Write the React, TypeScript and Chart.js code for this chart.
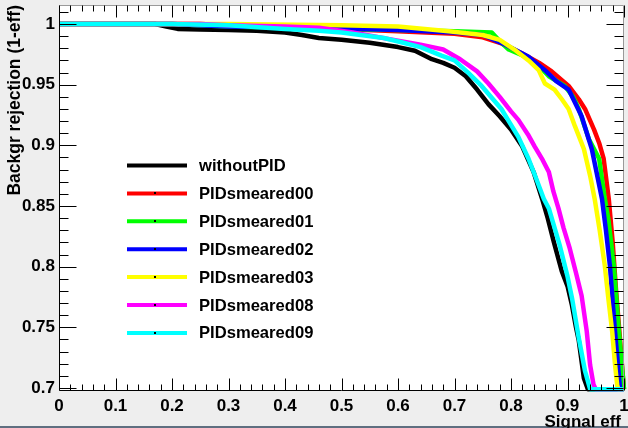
import React, { useEffect, useRef } from "react";
import { Chart, registerables } from "chart.js";

Chart.register(...registerables);

const SERIES_LABELS = ["withoutPID", "PIDsmeared00", "PIDsmeared01", "PIDsmeared02", "PIDsmeared03", "PIDsmeared08", "PIDsmeared09"];
const SERIES_COLORS = ["#000000", "#ff0000", "#00ff00", "#0000ff", "#ffff00", "#ff00ff", "#00ffff"];

const EFF_WITHOUT = [0, 0.17, 0.19, 0.21, 0.25, 0.3, 0.35, 0.4, 0.43, 0.46, 0.5, 0.55, 0.6, 0.63, 0.66, 0.68, 0.7, 0.72, 0.74, 0.76, 0.78, 0.8, 0.82, 0.84, 0.855, 0.865, 0.876, 0.89, 0.9, 0.908, 0.915, 0.92, 0.929, 0.936, 1.0];
const REJ_WITHOUT = [1, 1, 0.998, 0.996, 0.9955, 0.995, 0.9945, 0.993, 0.991, 0.9885, 0.987, 0.9845, 0.981, 0.978, 0.971, 0.968, 0.964, 0.957, 0.946, 0.934, 0.924, 0.913, 0.899, 0.878, 0.856, 0.84, 0.82, 0.796, 0.784, 0.768, 0.75, 0.739, 0.708, 0.699, 0.699];

const EFF_00 = [0, 0.25, 0.35, 0.45, 0.5, 0.6, 0.7, 0.75, 0.783, 0.819, 0.85, 0.872, 0.902, 0.92, 0.931, 0.947, 0.956, 0.964, 0.973, 0.98, 0.986, 0.993, 0.997, 1.0];
const REJ_00 = [1, 1, 0.998, 0.997, 0.996, 0.994, 0.992, 0.989, 0.984, 0.976, 0.968, 0.961, 0.949, 0.938, 0.93, 0.913, 0.902, 0.889, 0.856, 0.82, 0.78, 0.74, 0.715, 0.699];

const EFF_01 = [0, 0.2, 0.3, 0.5, 0.6, 0.7, 0.766, 0.78, 0.796, 0.831, 0.85, 0.867, 0.895, 0.91, 0.92, 0.938, 0.956, 0.966, 0.972, 0.982, 0.991, 0.996, 1.0];
const REJ_01 = [1, 1, 0.998, 0.996, 0.995, 0.994, 0.993, 0.986, 0.979, 0.972, 0.965, 0.957, 0.949, 0.94, 0.93, 0.905, 0.889, 0.856, 0.84, 0.801, 0.747, 0.72, 0.699];

const EFF_02 = [0, 0.2, 0.3, 0.45, 0.6, 0.7, 0.75, 0.79, 0.831, 0.86, 0.88, 0.902, 0.925, 0.943, 0.961, 0.968, 0.975, 0.984, 0.99, 0.993, 1.0];
const REJ_02 = [1, 1, 0.998, 0.997, 0.995, 0.993, 0.991, 0.983, 0.973, 0.962, 0.953, 0.946, 0.924, 0.897, 0.856, 0.83, 0.801, 0.747, 0.715, 0.699, 0.699];

const EFF_03 = [0, 0.3, 0.5, 0.6, 0.69, 0.75, 0.78, 0.806, 0.831, 0.849, 0.86, 0.877, 0.89, 0.902, 0.913, 0.929, 0.94, 0.948, 0.957, 0.966, 0.972, 0.979, 0.984, 0.988, 0.99, 1.0];
const REJ_03 = [1, 1, 0.999, 0.998, 0.994, 0.991, 0.987, 0.979, 0.97, 0.962, 0.951, 0.946, 0.938, 0.93, 0.916, 0.897, 0.875, 0.856, 0.83, 0.801, 0.775, 0.747, 0.72, 0.702, 0.699, 0.699];

const EFF_08 = [0, 0.25, 0.3, 0.4, 0.46, 0.52, 0.58, 0.64, 0.68, 0.71, 0.74, 0.76, 0.78, 0.8, 0.813, 0.83, 0.842, 0.856, 0.867, 0.875, 0.884, 0.893, 0.904, 0.915, 0.925, 0.934, 0.94, 0.946, 0.95, 1.0];
const REJ_08 = [1, 1, 0.999, 0.998, 0.997, 0.993, 0.988, 0.983, 0.979, 0.971, 0.961, 0.951, 0.94, 0.928, 0.921, 0.909, 0.899, 0.888, 0.878, 0.862, 0.848, 0.832, 0.815, 0.795, 0.776, 0.747, 0.719, 0.703, 0.699, 0.699];

const EFF_09 = [0, 0.2, 0.3, 0.4, 0.46, 0.5, 0.575, 0.606, 0.64, 0.677, 0.7, 0.724, 0.748, 0.783, 0.796, 0.813, 0.831, 0.845, 0.858, 0.867, 0.886, 0.9, 0.908, 0.92, 0.931, 0.94, 1.0];
const REJ_09 = [1, 1, 0.999, 0.996, 0.9945, 0.993, 0.9885, 0.985, 0.981, 0.974, 0.97, 0.96, 0.949, 0.93, 0.92, 0.907, 0.889, 0.872, 0.856, 0.848, 0.818, 0.792, 0.774, 0.741, 0.714, 0.699, 0.699];

const SERIES_EFF = [EFF_WITHOUT, EFF_00, EFF_01, EFF_02, EFF_03, EFF_08, EFF_09];
const SERIES_REJ = [REJ_WITHOUT, REJ_00, REJ_01, REJ_02, REJ_03, REJ_08, REJ_09];

const X_TICKS = [0, 0.1, 0.2, 0.3, 0.4, 0.5, 0.6, 0.7, 0.8, 0.9, 1];
const X_TICK_LABELS = ["0", "0.1", "0.2", "0.3", "0.4", "0.5", "0.6", "0.7", "0.8", "0.9", "1"];
const Y_TICKS = [0.7, 0.75, 0.8, 0.85, 0.9, 0.95, 1];
const Y_TICK_LABELS = ["0.7", "0.75", "0.8", "0.85", "0.9", "0.95", "1"];
const X_MIN = 0;
const X_MAX = 1;
const Y_MIN = 0.6975;
const Y_MAX = 1.0157;
const X_MINOR_STEP = 0.02;
const Y_MINOR_STEP = 0.01;
const X_TITLE = "Signal eff";
const Y_TITLE = "Backgr rejection (1-eff)";

const FONT = "'Liberation Sans', Arial, sans-serif";

const rootPlugin = {
  id: "rootStyle",
  beforeDraw(chart: any) {
    const { ctx, chartArea: a, width, height } = chart;
    ctx.save();
    ctx.fillStyle = "#eeeeee";
    ctx.fillRect(0, 0, width, height);
    ctx.fillStyle = "#ffffff";
    ctx.fillRect(a.left, a.top, a.right - a.left, a.bottom - a.top);
    ctx.fillStyle = "#5f6f80";
    ctx.fillRect(0, height - 2, width, 2);
    ctx.restore();
  },
  afterDraw(chart: any) {
    const { ctx, chartArea: a } = chart;
    const xs = chart.scales.x;
    const ys = chart.scales.y;
    ctx.save();
    ctx.lineWidth = 1;
    ctx.strokeStyle = "#000";
    const L = Math.round(a.left) + 0.5;
    const R = Math.round(a.right) - 0.5;
    const T = Math.round(a.top) + 0.5;
    const B = Math.round(a.bottom) - 0.5;
    ctx.beginPath();
    ctx.moveTo(L, T);
    ctx.lineTo(L, B);
    ctx.lineTo(R, B);
    ctx.stroke();
    ctx.strokeStyle = "#9a9a9a";
    ctx.beginPath();
    ctx.moveTo(L, T);
    ctx.lineTo(R, T);
    ctx.lineTo(R, B);
    ctx.stroke();

    ctx.strokeStyle = "#000";
    const nx = Math.round((X_MAX - X_MIN) / X_MINOR_STEP);
    for (let i = 0; i <= nx; i++) {
      const v = X_MIN + i * X_MINOR_STEP;
      const major = i % 5 === 0;
      const len = major ? 12 : 6;
      const px = Math.round(xs.getPixelForValue(v)) + 0.5;
      ctx.beginPath();
      ctx.moveTo(px, B);
      ctx.lineTo(px, B - len);
      ctx.moveTo(px, T);
      ctx.lineTo(px, T + len);
      ctx.stroke();
    }
    const ny = Math.round((1.01 - 0.7) / Y_MINOR_STEP);
    for (let i = 0; i <= ny; i++) {
      const v = 0.7 + i * Y_MINOR_STEP;
      const major = i % 5 === 0;
      const len = major ? 17 : 9;
      const py = Math.round(ys.getPixelForValue(v)) + 0.5;
      ctx.beginPath();
      ctx.moveTo(L, py);
      ctx.lineTo(L + len, py);
      ctx.moveTo(R, py);
      ctx.lineTo(R - len, py);
      ctx.stroke();
    }

    ctx.fillStyle = "#000";
    ctx.font = `bold 17px ${FONT}`;
    ctx.textAlign = "right";
    ctx.textBaseline = "alphabetic";
    ctx.fillText(X_TITLE, 621, 427);
    ctx.save();
    ctx.translate(20, 5);
    ctx.rotate(-Math.PI / 2);
    ctx.textAlign = "right";
    ctx.font = `bold 17.5px ${FONT}`;
    ctx.fillText(Y_TITLE, 0, 0);
    ctx.restore();

    chart.data.datasets.forEach((ds: any, i: number) => {
      const y = 165.5 + i * 27.9;
      ctx.strokeStyle = ds.borderColor;
      ctx.lineWidth = 4;
      ctx.lineCap = "butt";
      ctx.beginPath();
      ctx.moveTo(127, y);
      ctx.lineTo(187, y);
      ctx.stroke();
      if (i > 0) {
        ctx.fillStyle = "#000";
        ctx.fillRect(154, Math.round(y) - 1, 2, 2);
      }
      ctx.fillStyle = "#000";
      ctx.font = `bold 16.6px ${FONT}`;
      ctx.textAlign = "left";
      ctx.textBaseline = "middle";
      ctx.fillText(ds.label, 199, y + 1);
    });
    ctx.restore();
  },
};

export default function App() {
  const ref = useRef<HTMLCanvasElement | null>(null);
  useEffect(() => {
    const canvas = ref.current;
    if (!canvas) return;
    const datasets = SERIES_LABELS.map((label, i) => ({
      label,
      data: SERIES_EFF[i].map((x, j) => ({ x, y: SERIES_REJ[i][j] })),
      borderColor: SERIES_COLORS[i],
      backgroundColor: SERIES_COLORS[i],
      borderWidth: 4.5,
      pointRadius: 0,
      tension: 0,
      fill: false,
      borderJoinStyle: "round" as const,
      order: SERIES_LABELS.length - i,
      clip: 3,
    }));
    const tickFont = { family: FONT, weight: "bold" as const, size: 17 };
    const chart = new Chart(canvas, {
      type: "line",
      data: { datasets },
      plugins: [rootPlugin],
      options: {
        animation: false,
        responsive: false,
        maintainAspectRatio: false,
        layout: { padding: { top: 5, right: 4, left: 0, bottom: 0 } },
        plugins: { legend: { display: false }, tooltip: { enabled: false } },
        scales: {
          x: {
            type: "linear",
            min: X_MIN,
            max: X_MAX,
            grid: { display: false, drawTicks: false },
            border: { display: false },
            afterBuildTicks: (s: any) => {
              s.ticks = X_TICKS.map((v) => ({ value: v }));
            },
            afterFit: (s: any) => {
              s.height = 37;
              s.paddingLeft = 0;
              s.paddingRight = 0;
            },
            ticks: {
              autoSkip: false,
              maxRotation: 0,
              padding: 5,
              color: "#000",
              font: tickFont,
              callback: (_v: any, idx: number) => X_TICK_LABELS[idx],
            },
          },
          y: {
            type: "linear",
            min: Y_MIN,
            max: Y_MAX,
            grid: { display: false, drawTicks: false },
            border: { display: false },
            afterBuildTicks: (s: any) => {
              s.ticks = Y_TICKS.map((v) => ({ value: v }));
            },
            afterFit: (s: any) => {
              s.width = 59;
              s.paddingTop = 0;
              s.paddingBottom = 0;
            },
            ticks: {
              autoSkip: false,
              padding: 4,
              color: "#000",
              font: tickFont,
              callback: (_v: any, idx: number) => Y_TICK_LABELS[idx],
            },
          },
        },
      },
    });
    return () => chart.destroy();
  }, []);
  return (
    <div style={{ position: "absolute", left: 0, top: 0, width: 628, height: 428 }}>
      <canvas ref={ref} width={628} height={428} style={{ display: "block", width: 628, height: 428 }} />
    </div>
  );
}
